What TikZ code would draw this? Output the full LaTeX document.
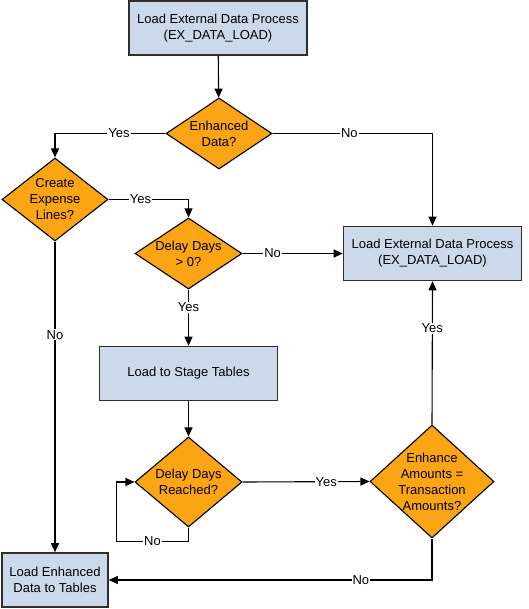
\documentclass[tikz,border=0pt]{standalone}
\usepackage{fontspec}
\setmainfont{Liberation Sans}
\usepackage{tikz}
\usetikzlibrary{shapes.geometric, arrows.meta}
\definecolor{boxblue}{HTML}{CCD9EB}
\definecolor{decorange}{HTML}{FBA514}
\definecolor{boxline}{HTML}{2E2E2E}
\tikzstyle{process} = [rectangle, draw=boxline, line width=1.6pt, fill=boxblue, align=center, inner sep=0pt]
\tikzstyle{decision} = [diamond, draw=black, line width=1.1pt, fill=decorange, align=center, inner sep=-8pt]
\tikzstyle{arrow} = [line width=1.1pt, ->, >={Triangle[length=9pt,width=8pt]}]
\tikzstyle{lbl} = [fill=white, inner sep=1pt]

\begin{document}
\begin{tikzpicture}[x=1pt, y=-1pt, font=\fontsize{13}{16}\selectfont]
		\useasboundingbox (0,0) rectangle (528,609);
		\coordinate (loadext) at (218,28);
		\coordinate (enhanced) at (219,133.5);
		\coordinate (create) at (55,199.5);
		\coordinate (delay) at (188.5,253.5);
		\coordinate (loadext2) at (432.5,253.5);
		\coordinate (stage) at (188.5,373.5);
		\coordinate (reached) at (188.5,482);
		\coordinate (amounts) at (432,481.5);
		\coordinate (loadenh) at (55,580);
		% Processes
		\begin{scope}[every node/.style={process, minimum width=178pt, minimum height=54pt}]
		\node[name=loadext] at (loadext) {Load External Data Process\\(EX\_DATA\_LOAD)};
		\node[name=loadext2] at (loadext2) {Load External Data Process\\(EX\_DATA\_LOAD)};
		\node[name=stage] at (stage) {Load to Stage Tables};
		\node[name=loadenh, minimum width=106pt] at (loadenh) {Load Enhanced\\Data to Tables};
		\end{scope}
		% Decisions
		\begin{scope}[every node/.style={decision}]
		\node[name=enhanced, minimum width=106pt, minimum height=71pt] at (enhanced) {Enhanced\\Data?};
		\node[name=create, minimum width=106pt, minimum height=83pt] at (create) {Create\\Expense\\Lines?};
		\node[name=delay, minimum width=107pt, minimum height=71pt] at (delay) {Delay Days\\> 0?};
		\node[name=reached, minimum width=107pt, minimum height=90pt] at (reached) {Delay Days\\Reached?};
		\node[name=amounts, minimum width=124pt, minimum height=113pt] at (amounts) {Enhance\\Amounts =\\Transaction\\Amounts?};
		\end{scope}
		% Connectors
		\draw [arrow] (loadext)--(enhanced);
		\draw [arrow] (enhanced.west) -| node[lbl, pos=0.21] {Yes} (create.north);
		\draw [arrow] (enhanced.east) -| node[lbl, pos=0.24] {No} (loadext2.north);
		\draw [arrow] (create.east) -| node[lbl, pos=0.2] {Yes} (delay.north);
		\draw [arrow] (delay.east) -- node[lbl, pos=0.3] {No} (loadext2.west);
		\draw [arrow] (delay.south) -- node[lbl, pos=0.32] {Yes} (stage.north);
		\draw [arrow] (create.south) -- node[lbl, pos=0.3] {No} (loadenh.north);
		\draw [arrow] (stage)--(reached);
		\draw [arrow] (reached.south) -- ++(0,14) -- node[lbl] {No} ++(-72,0) |- (reached.west);
		\draw [arrow] (reached.east) -- node[lbl, pos=0.66] {Yes} (amounts.west);
		\draw [arrow] (amounts.north) -- node[lbl, pos=0.67] {Yes} (loadext2.south);
		\draw [arrow] (amounts.south) |- node[lbl, pos=0.61] {No} (loadenh.east);
\end{tikzpicture}
\end{document}
